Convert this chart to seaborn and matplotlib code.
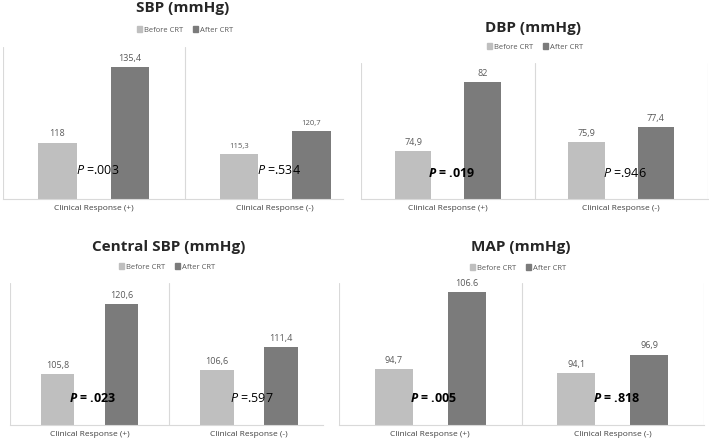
import numpy as np
import pandas as pd
import seaborn as sns
import matplotlib.pyplot as plt

sns.set_theme(style="white")
plt.rcParams['font.family'] = ['Open Sans', 'DejaVu Sans']
plt.rcParams['mathtext.fontset'] = 'custom'
plt.rcParams['mathtext.it'] = 'Open Sans:italic'
plt.rcParams['mathtext.bf'] = 'Open Sans:bold:italic'

groups = ["Clinical Response (+)", "Clinical Response (-)"]
phases = ["Before CRT", "After CRT"]

titles = ["SBP (mmHg)", "DBP (mmHg)", "Central SBP (mmHg)", "MAP (mmHg)"]

sbp_before = [118, 115.3]
sbp_after = [135.4, 120.7]
sbp_labels_before = ["118", "115,3"]
sbp_labels_after = ["135,4", "120,7"]
sbp_p = [".003", ".534"]

dbp_before = [74.9, 75.9]
dbp_after = [82, 77.4]
dbp_labels_before = ["74,9", "75,9"]
dbp_labels_after = ["82", "77,4"]
dbp_p = [".019", ".946"]

csbp_before = [105.8, 106.6]
csbp_after = [120.6, 111.4]
csbp_labels_before = ["105,8", "106,6"]
csbp_labels_after = ["120,6", "111,4"]
csbp_p = [".023", ".597"]

map_before = [94.7, 94.1]
map_after = [106.6, 96.9]
map_labels_before = ["94,7", "94,1"]
map_labels_after = ["106.6", "96,9"]
map_p = [".005", ".818"]

before_all = [sbp_before, dbp_before, csbp_before, map_before]
after_all = [sbp_after, dbp_after, csbp_after, map_after]
lab_b_all = [sbp_labels_before, dbp_labels_before, csbp_labels_before, map_labels_before]
lab_a_all = [sbp_labels_after, dbp_labels_after, csbp_labels_after, map_labels_after]
p_all = [sbp_p, dbp_p, csbp_p, map_p]

# layout in pixels: axes edges, category width, y range, title / legend centres
W, H = 709, 440
panels = [
    dict(left=3, right=343, bottom=199, top=47, cat=181.5, ylim=(105, 140),
         title_y=8, title_x=183, leg_y=30, leg_x=185, p_bold=[False, False], small_grp=1),
    dict(left=361, right=708, bottom=199, top=63, cat=173.5, ylim=(70, 84),
         title_y=28, title_x=533, leg_y=47, leg_x=535, p_bold=[True, False], small_grp=None),
    dict(left=9.5, right=323, bottom=425, top=283, cat=159.7, ylim=(95, 125),
         title_y=247, title_x=169, leg_y=267, leg_x=167, p_bold=[True, False], small_grp=None),
    dict(left=339, right=704, bottom=425, top=283, cat=182.5, ylim=(86, 108),
         title_y=247, title_x=521, leg_y=268, leg_x=518, p_bold=[True, True], small_grp=None),
]

colors = ["#bfbfbf", "#7b7b7b"]
line_c = "#d9d9d9"

fig = plt.figure(figsize=(W / 100, H / 100), dpi=100)

for i, pan in enumerate(panels):
    ax = fig.add_axes([pan['left'] / W, 1 - pan['bottom'] / H,
                       (pan['right'] - pan['left']) / W, (pan['bottom'] - pan['top']) / H])
    df = pd.DataFrame({
        'group': groups * 2,
        'phase': [phases[0]] * 2 + [phases[1]] * 2,
        'value': before_all[i] + after_all[i],
    })
    sns.barplot(data=df, x='group', y='value', hue='phase', hue_order=phases,
                palette=colors, width=0.8, gap=0.475, ax=ax, legend=False,
                saturation=1, linewidth=0)
    ax.set_ylim(*pan['ylim'])
    ax.set_xlim(-0.5, -0.5 + (pan['right'] - pan['left']) / pan['cat'])
    for s in ['top', 'right', 'left']:
        ax.spines[s].set_visible(False)
    ax.spines['bottom'].set_color(line_c)
    ax.spines['bottom'].set_linewidth(0.8)
    for xv in [-0.5, 0.5, 1.5]:
        ax.axvline(xv, color=line_c, lw=0.8, zorder=0)
    ax.set_yticks([])
    ax.set_xlabel('')
    ax.set_ylabel('')
    ax.tick_params(axis='x', length=0, pad=4, labelsize=6, labelcolor='#404040')

    for cont, labs in zip(ax.containers, [lab_b_all[i], lab_a_all[i]]):
        txts = ax.bar_label(cont, labels=labs, padding=3, fontsize=6.5, color='#595959')
        if pan['small_grp'] is not None:
            txts[pan['small_grp']].set_fontsize(5.5)

    # p-values
    for g in range(2):
        bold = pan['p_bold'][g]
        if bold:
            s = r"$\mathbf{P}$ = " + p_all[i][g]
        else:
            s = r"$\mathit{P}$ =" + p_all[i][g]
        ax.text(g + 0.02, 0.19, s, transform=ax.get_xaxis_transform(), ha='center', va='center',
                fontsize=9, color='black', fontweight='bold' if bold else 'normal', zorder=5)

    fig.text(pan['title_x'] / W, 1 - pan['title_y'] / H, titles[i], ha='center', va='center',
             fontsize=11, fontweight='bold', color='#262626')
    handles = [plt.Rectangle((0, 0), 1, 1, color=c) for c in colors]
    fig.legend(handles, phases, loc='center', bbox_to_anchor=(pan['leg_x'] / W, 1 - pan['leg_y'] / H),
               ncol=2, frameon=False, fontsize=5.5, handlelength=0.7, handleheight=0.7,
               handletextpad=0.3, columnspacing=1.2, labelcolor='#595959')

fig.savefig('out.png', dpi=100)
